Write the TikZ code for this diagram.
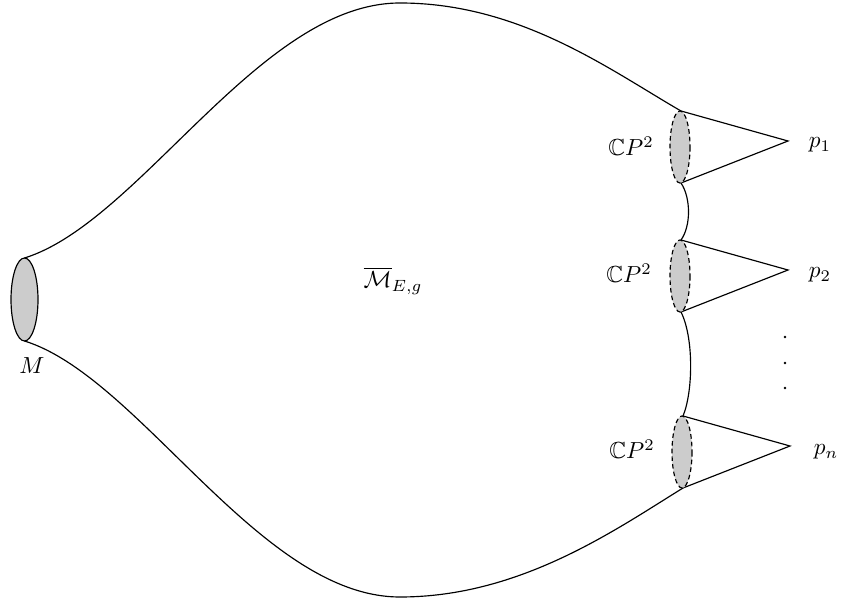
\documentclass[tikz,border=0pt]{standalone}
\usepackage{amssymb}
\begin{document}
\begin{tikzpicture}[x=0.43pt,y=-0.43pt,line width=0.5pt,
  hole/.style={draw,fill=black!20},
  cphole/.style={draw,dash pattern=on 2pt off 1.3pt,fill=black!20},
  lbl/.style={inner sep=0pt}]
\useasboundingbox (0,0) rectangle (841,605);
% left boundary M
\coordinate (Mt) at (24.5,258);
\coordinate (Mb) at (24.5,341);
% right ellipses
\coordinate (c1) at (680,147);
\coordinate (c2) at (680,276);
\coordinate (c3) at (682,452);
\coordinate (t1) at (681,111);
\coordinate (b1) at (681,183);
\coordinate (t2) at (681,240);
\coordinate (b2) at (681,312);
\coordinate (t3) at (683,416);
\coordinate (b3) at (683,488);
% apexes
\coordinate (a1) at (788,141);
\coordinate (a2) at (788,270);
\coordinate (a3) at (790,446);
% outer curves
\draw (Mt) .. controls (140,222) and (260,3) .. (400,3)
           .. controls (520,3) and (610,70) .. (t1);
\draw (Mb) .. controls (140,377) and (260,597) .. (400,597)
           .. controls (520,597) and (615,530) .. (b3);
% connecting curves
\draw (b1) .. controls (691,198) and (691,226) .. (t2);
\draw (b2) .. controls (694,338) and (693,392) .. (t3);
% cones
\draw (t1) -- (a1) -- (b1);
\draw (t2) -- (a2) -- (b2);
\draw (t3) -- (a3) -- (b3);
% ellipses
\draw[hole] (24.5,299.5) ellipse [x radius=13.5, y radius=41.5];
\draw[cphole] (c1) ellipse [x radius=10, y radius=36];
\draw[cphole] (c2) ellipse [x radius=10, y radius=36];
\draw[cphole] (c3) ellipse [x radius=10, y radius=36];
% dots
\fill (785,337) circle [radius=1.3];
\fill (785,363) circle [radius=1.3];
\fill (785,388) circle [radius=1.3];
% labels
\node[lbl] (lM) at (32,366) {$M$};
\node[lbl] (lMEg) at (393,281) {$\overline{\mathcal{M}}_{E,g}$};
\node[lbl] (lc1) at (631,146) {$\mathbb{C}P^2$};
\node[lbl] (lc2) at (629,273) {$\mathbb{C}P^2$};
\node[lbl] (lc3) at (632,449) {$\mathbb{C}P^2$};
\node[lbl] (lp1) at (820,145) {$p_1$};
\node[lbl] (lp2) at (820,275) {$p_2$};
\node[lbl] (lpn) at (826,452) {$p_n$};
\end{tikzpicture}
\end{document}
